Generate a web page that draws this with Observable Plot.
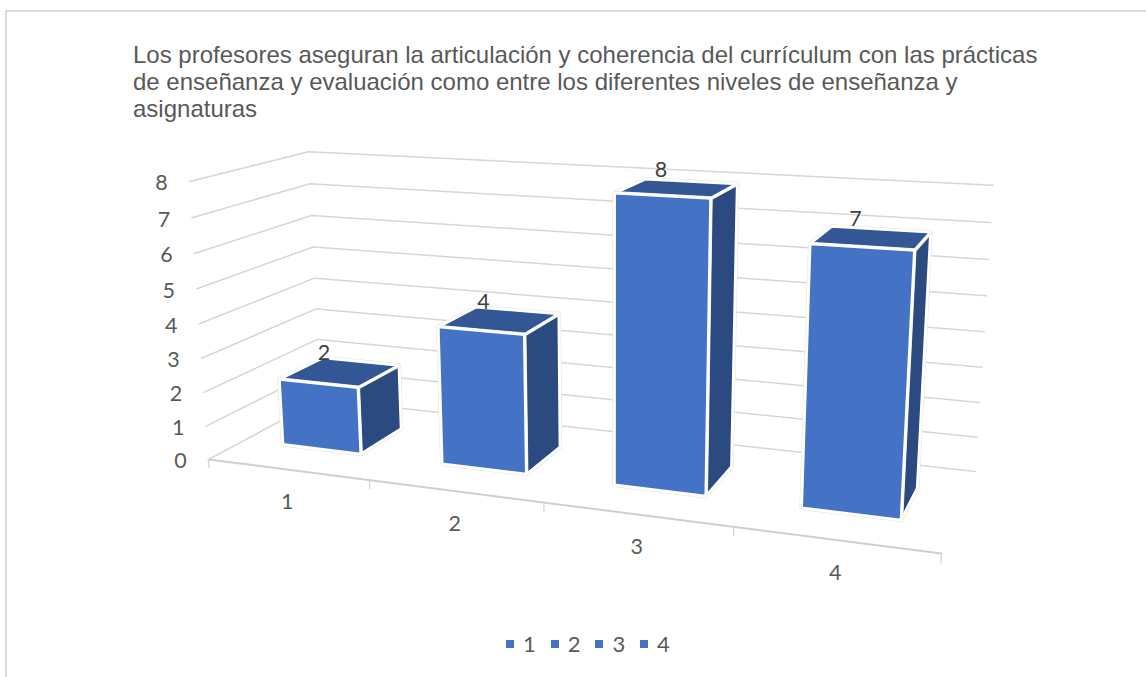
<!DOCTYPE html>
<html lang="es">
<head>
<meta charset="utf-8">
<script src="https://cdn.jsdelivr.net/npm/d3@7"></script>
<script src="https://cdn.jsdelivr.net/npm/@observablehq/plot@0.6"></script>
<style>
  html, body { margin: 0; padding: 0; background: #fff; width: 1146px; height: 677px; overflow: hidden; }
  #frame { position: absolute; left: 5px; top: 10px; width: 1300px; height: 800px; border: 2px solid #d9d9d9; box-sizing: border-box; }
  #title { position: absolute; left: 133px; top: 41px; font: 24px/27px "Liberation Sans", Arial, sans-serif; color: #595959; white-space: pre; }
  #chart { position: absolute; left: 0; top: 130px; }
  #legend { position: absolute; left: 0; top: 630px; font: 22px/28px Lato, sans-serif; color: #595959; }
  #legend span.k { position: absolute; top: 10px; width: 8px; height: 8px; background: #4472C4; }
  #legend span.t { position: absolute; top: 0; }
</style>
</head>
<body>
<div id="frame"></div>
<div id="title"></div>
<div id="chart"></div>
<div id="legend"></div>
<script>
const titleLines = [
  "Los profesores aseguran la articulación y coherencia del currículum con las prácticas",
  "de enseñanza y evaluación como entre los diferentes niveles de enseñanza y",
  "asignaturas"
];
const categories = ["1", "2", "3", "4"];
const values = [2, 4, 8, 7];
const yTicks = [0, 1, 2, 3, 4, 5, 6, 7, 8];
const yMax = 8;

// Perspective camera: u along the category axis, w into the depth, v upward (all 0..1)
const cam = {
  u: [585.6, 7.4, -0.1566],
  w: [152.7, -9.25, 0.1272],
  v: [-27.5, -286.1, -0.045],
  o: [208, 459, 1]
};
function project(u, w, v) {
  const h = i => cam.u[i] * u + cam.w[i] * w + cam.v[i] * v + cam.o[i];
  return {px: h(0) / h(2), py: h(1) / h(2)};
}
const P = (u, w, v, extra) => ({...project(u, w, v), ...extra});

const n = categories.length;
const barHalf = 0.0625;         // gap width 100%
const wFront = 0.3, wBack = 0.7;
const centre = i => (i + 0.5) / n;

const grid = yTicks.flatMap(t => {
  const v = t / yMax;
  return [P(0, 0, v, {t}), P(0, 1, v, {t}), P(1, 1, v, {t})];
});
const floorFront = [P(0, 0, 0), P(1, 0, 0)];
const xTickMarks = d3.range(n + 1).flatMap(i => [P(i / n, 0, 0, {i}), P(i / n, 0, -0.03, {i})]);

function faces(kind) {
  return values.flatMap((val, i) => {
    const a = centre(i) - barHalf, b = centre(i) + barHalf, v = val / yMax;
    const corners = {
      front: [[a, wFront, 0], [b, wFront, 0], [b, wFront, v], [a, wFront, v]],
      side:  [[b, wFront, 0], [b, wBack, 0], [b, wBack, v], [b, wFront, v]],
      top:   [[a, wFront, v], [b, wFront, v], [b, wBack, v], [a, wBack, v]]
    }[kind];
    return corners.map(c => P(c[0], c[1], c[2], {bar: categories[i]}));
  });
}
const face = (kind, fill) => [
  Plot.line(faces(kind), {x: "px", y: "py", z: "bar", curve: "linear-closed", fill: "none", stroke: "#e2e2e2", strokeWidth: 4, strokeLinejoin: "round"}),
  Plot.line(faces(kind), {x: "px", y: "py", z: "bar", curve: "linear-closed", fill, stroke: "#ffffff", strokeWidth: 3, strokeLinejoin: "round"})
];

const yLabels = yTicks.map(t => P(0, 0, t / yMax, {label: String(t)}));
const xLabels = categories.map((c, i) => P(centre(i), 0, 0, {label: c}));
const dataLabels = values.map((val, i) => P(centre(i), 0.5, val / yMax, {label: String(val)}));

const chart = Plot.plot({
  width: 1146,
  height: 480,
  margin: 0,
  x: {domain: [0, 1146], range: [0, 1146], axis: null},
  y: {domain: [130, 610], range: [0, 480], axis: null},
  style: {background: "transparent", overflow: "visible"},
  marks: [
    Plot.line(grid, {x: "px", y: "py", z: "t", stroke: "#d6d6d6", strokeWidth: 1.5}),
    Plot.line(floorFront, {x: "px", y: "py", stroke: "#cfcfcf", strokeWidth: 2}),
    Plot.line(xTickMarks, {x: "px", y: "py", z: "i", stroke: "#d6d6d6", strokeWidth: 1.3}),
    ...face("side", "#2B4A80"),
    ...face("top", "#335694"),
    ...face("front", "#4472C4"),
    Plot.text(yLabels, {x: "px", y: "py", text: "label", dx: -28, dy: 2, fontSize: 21.5, fontFamily: "Lato, sans-serif", fill: "#595959"}),
    Plot.text(xLabels, {x: "px", y: "py", text: "label", dy: 33, fontSize: 21.5, fontFamily: "Lato, sans-serif", fill: "#595959"}),
    Plot.text(dataLabels, {x: "px", y: "py", text: "label", dx: -16, dy: -18.5, fontSize: 21.5, fontFamily: "Lato, sans-serif", fill: "#404040"})
  ]
});
document.getElementById("chart").append(chart);
document.getElementById("title").textContent = titleLines.join("\n");

const legend = document.getElementById("legend");
categories.forEach((c, i) => {
  const k = document.createElement("span"); k.className = "k"; k.style.left = (506 + i * 44.7) + "px";
  const t = document.createElement("span"); t.className = "t"; t.style.left = (523 + i * 44.7) + "px"; t.textContent = c;
  legend.append(k, t);
});
</script>
</body>
</html>
